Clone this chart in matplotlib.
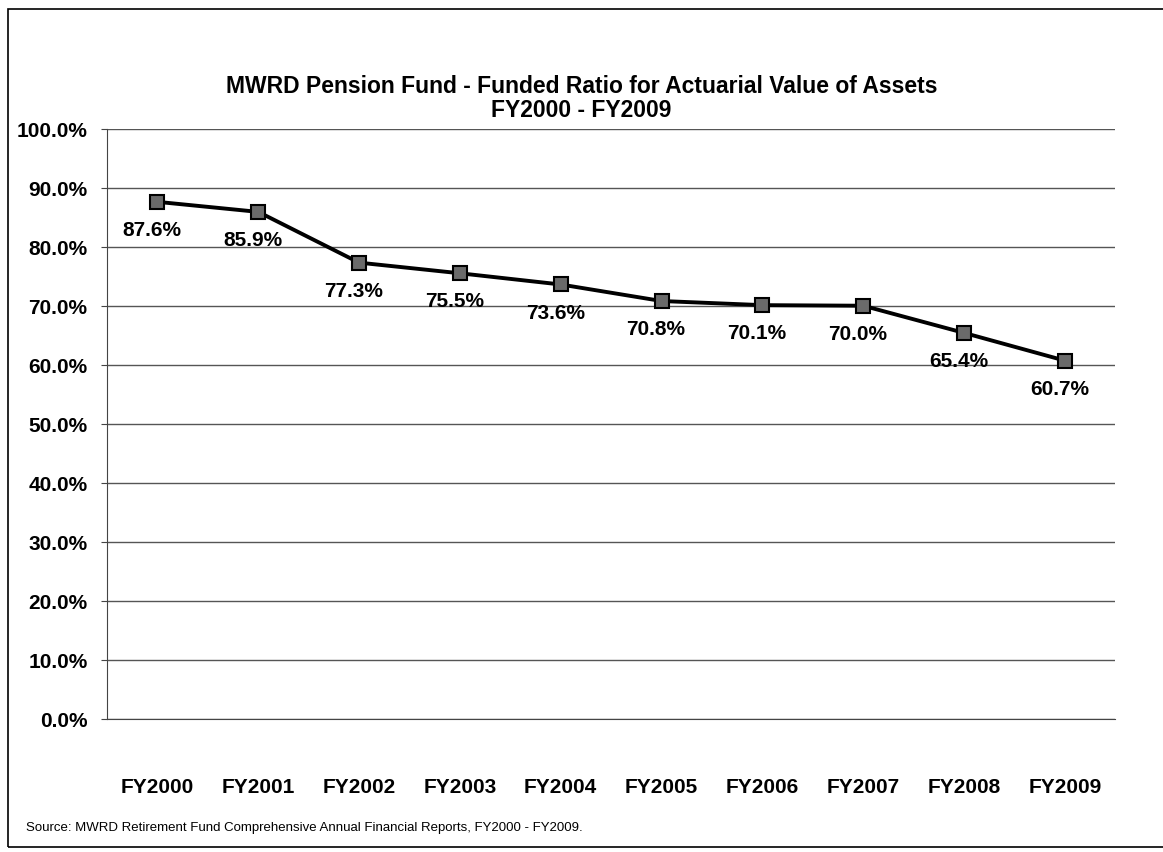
import matplotlib
matplotlib.use("Agg")
import matplotlib.pyplot as plt
from matplotlib.patches import Rectangle
from matplotlib.ticker import FuncFormatter

categories = ["FY2000", "FY2001", "FY2002", "FY2003", "FY2004",
              "FY2005", "FY2006", "FY2007", "FY2008", "FY2009"]
funded_ratio = [87.6, 85.9, 77.3, 75.5, 73.6, 70.8, 70.1, 70.0, 65.4, 60.7]
y_ticks = [0, 10, 20, 30, 40, 50, 60, 70, 80, 90, 100]

plt.rcParams['font.family'] = ['Liberation Sans', 'DejaVu Sans']

fig = plt.figure(figsize=(11.63, 8.53), dpi=100)
ax = fig.add_axes([0.092, 0.156, 0.867, 0.692])

x = list(range(len(categories)))
ax.plot(x, funded_ratio, color='black', lw=2.8, marker='s', markersize=10,
        markerfacecolor='#6a6a6a', markeredgecolor='black', markeredgewidth=1.5, zorder=3)

for xi, v in zip(x, funded_ratio):
    ax.annotate(f"{v:.1f}%", (xi, v), xytext=(-4, -13), textcoords='offset points',
                ha='center', va='top', fontsize=15, fontweight='bold')

ax.set_xlim(-0.5, len(categories) - 0.5)
ax.set_ylim(0, 100)
ax.set_yticks(y_ticks)
ax.yaxis.set_major_formatter(FuncFormatter(lambda v, p: f"{v:.1f}%"))
ax.set_xticks(x)
ax.set_xticklabels(categories)
ax.tick_params(axis='both', labelsize=15, length=4, color='#444444')
for lab in ax.get_xticklabels() + ax.get_yticklabels():
    lab.set_fontweight('bold')
ax.tick_params(axis='x', pad=42, length=0)
ax.tick_params(axis='y', pad=10)

ax.grid(axis='y', color='#555555', lw=1.0)
ax.set_axisbelow(True)
for s in ['top', 'right']:
    ax.spines[s].set_visible(False)
ax.spines['left'].set_color('#444444')
ax.spines['bottom'].set_color('#444444')

fig.text(0.5, 0.885, "MWRD Pension Fund - Funded Ratio for Actuarial Value of Assets\nFY2000 - FY2009",
         ha='center', va='center', fontsize=16.5, fontweight='bold', linespacing=1.05)
fig.text(0.022, 0.029, "Source: MWRD Retirement Fund Comprehensive Annual Financial Reports, FY2000 - FY2009.",
         ha='left', va='center', fontsize=9.5)

fig.patches.append(Rectangle((0.007, 0.006), 1.2, 0.982, transform=fig.transFigure,
                             fill=False, edgecolor='black', lw=1.2))

fig.savefig("out.png", dpi=100)
